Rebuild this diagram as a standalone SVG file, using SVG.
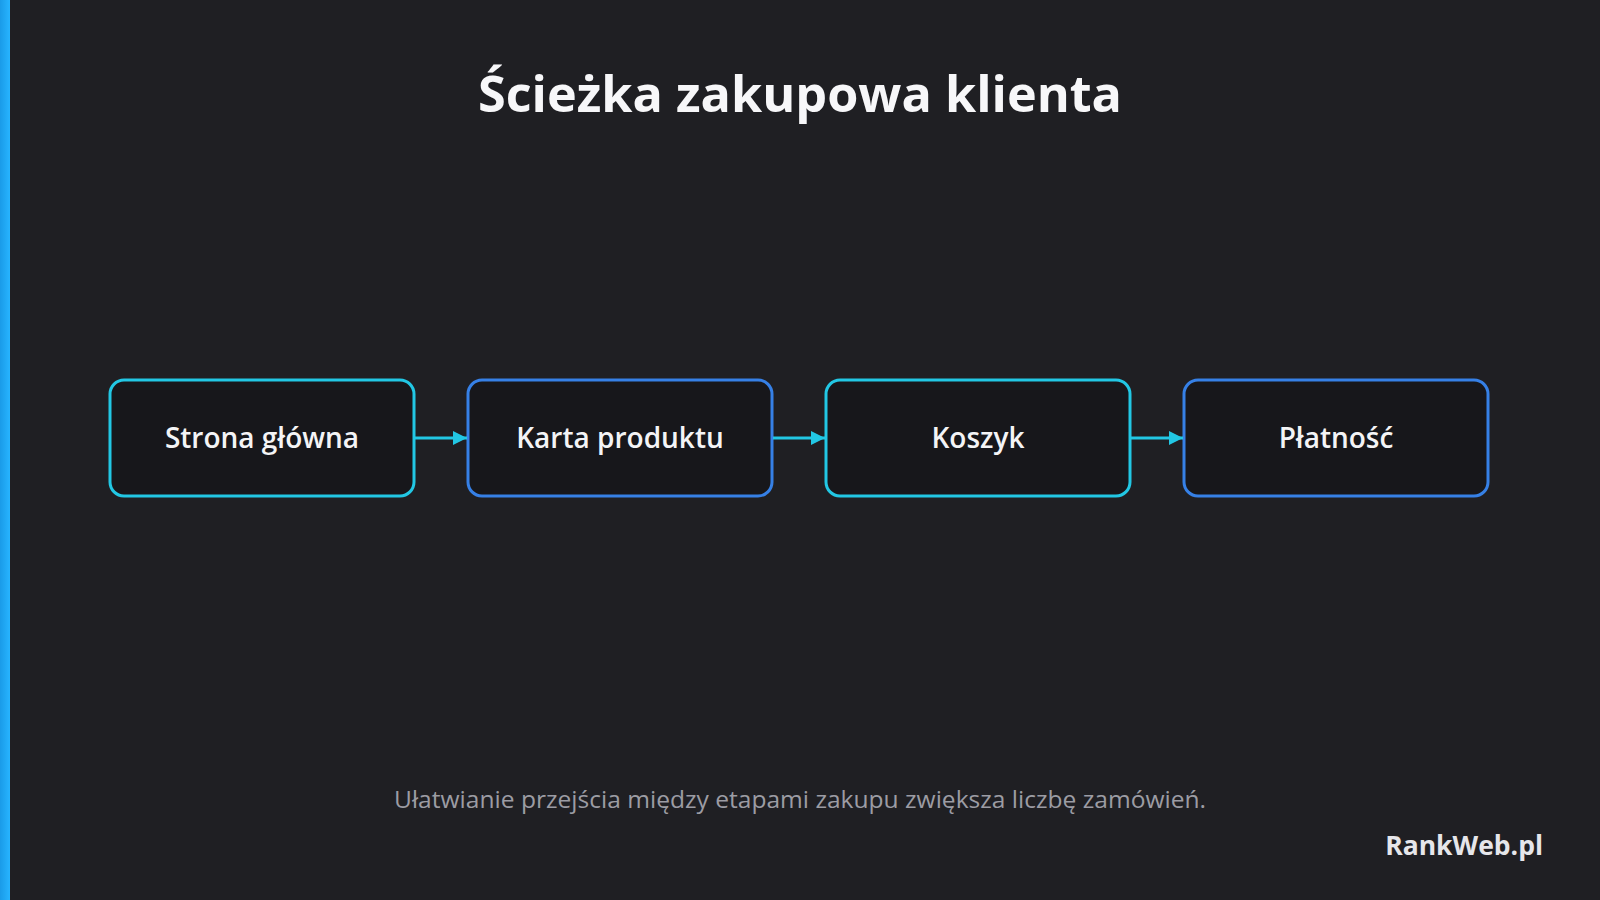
<svg xmlns="http://www.w3.org/2000/svg" width="1600" height="900" viewBox="0 0 1600 900">
<defs>
<linearGradient id="bar" x1="0" y1="0" x2="1" y2="0">
<stop offset="0" stop-color="#1a9be8"/>
<stop offset="1" stop-color="#27b4ff"/>
</linearGradient>
<marker id="arr" markerWidth="14" markerHeight="14" refX="14" refY="7" orient="auto" markerUnits="userSpaceOnUse">
<path d="M0,0 L14,7 L0,14 Z" fill="#22c7e4"/>
</marker>
<style>
.t{font-family:"Segoe UI","Open Sans","Noto Sans","Liberation Sans",sans-serif;}
.box{fill:#17171b;stroke-width:3;}
.cy{stroke:#22c7e4;}
.bl{stroke:#3680e6;}
.lbl{font-size:28px;font-weight:600;fill:#f4f4f6;text-anchor:middle;}
.con{stroke:#22c7e4;stroke-width:3;fill:none;}
</style>
</defs>
<rect width="1600" height="900" fill="#1f1f23"/>
<rect x="0" y="0" width="10" height="900" fill="url(#bar)"/>
<text class="t" x="800" y="112" font-size="51" font-weight="700" fill="#f7f7f9" text-anchor="middle" textLength="644" lengthAdjust="spacingAndGlyphs">Ścieżka zakupowa klienta</text>
<g id="n1"><rect class="box cy" x="110" y="380" width="304" height="116" rx="14"/><text class="t lbl" x="262" y="448">Strona główna</text></g>
<g id="n2"><rect class="box bl" x="468" y="380" width="304" height="116" rx="14"/><text class="t lbl" x="620" y="448">Karta produktu</text></g>
<g id="n3"><rect class="box cy" x="826" y="380" width="304" height="116" rx="14"/><text class="t lbl" x="978" y="448">Koszyk</text></g>
<g id="n4"><rect class="box bl" x="1184" y="380" width="304" height="116" rx="14"/><text class="t lbl" x="1336" y="448">Płatność</text></g>
<g id="connectors">
<line class="con" x1="415" y1="438" x2="467" y2="438" marker-end="url(#arr)"/>
<line class="con" x1="773" y1="438" x2="825" y2="438" marker-end="url(#arr)"/>
<line class="con" x1="1131" y1="438" x2="1183" y2="438" marker-end="url(#arr)"/>
</g>
<text class="t" x="800" y="808" font-size="24.5" fill="#9c9ca3" text-anchor="middle" textLength="812" lengthAdjust="spacingAndGlyphs">Ułatwianie przejścia między etapami zakupu zwiększa liczbę zamówień.</text>
<text class="t" x="1543" y="855" font-size="26.5" font-weight="700" fill="#e6e6ea" text-anchor="end">RankWeb.pl</text>
</svg>
